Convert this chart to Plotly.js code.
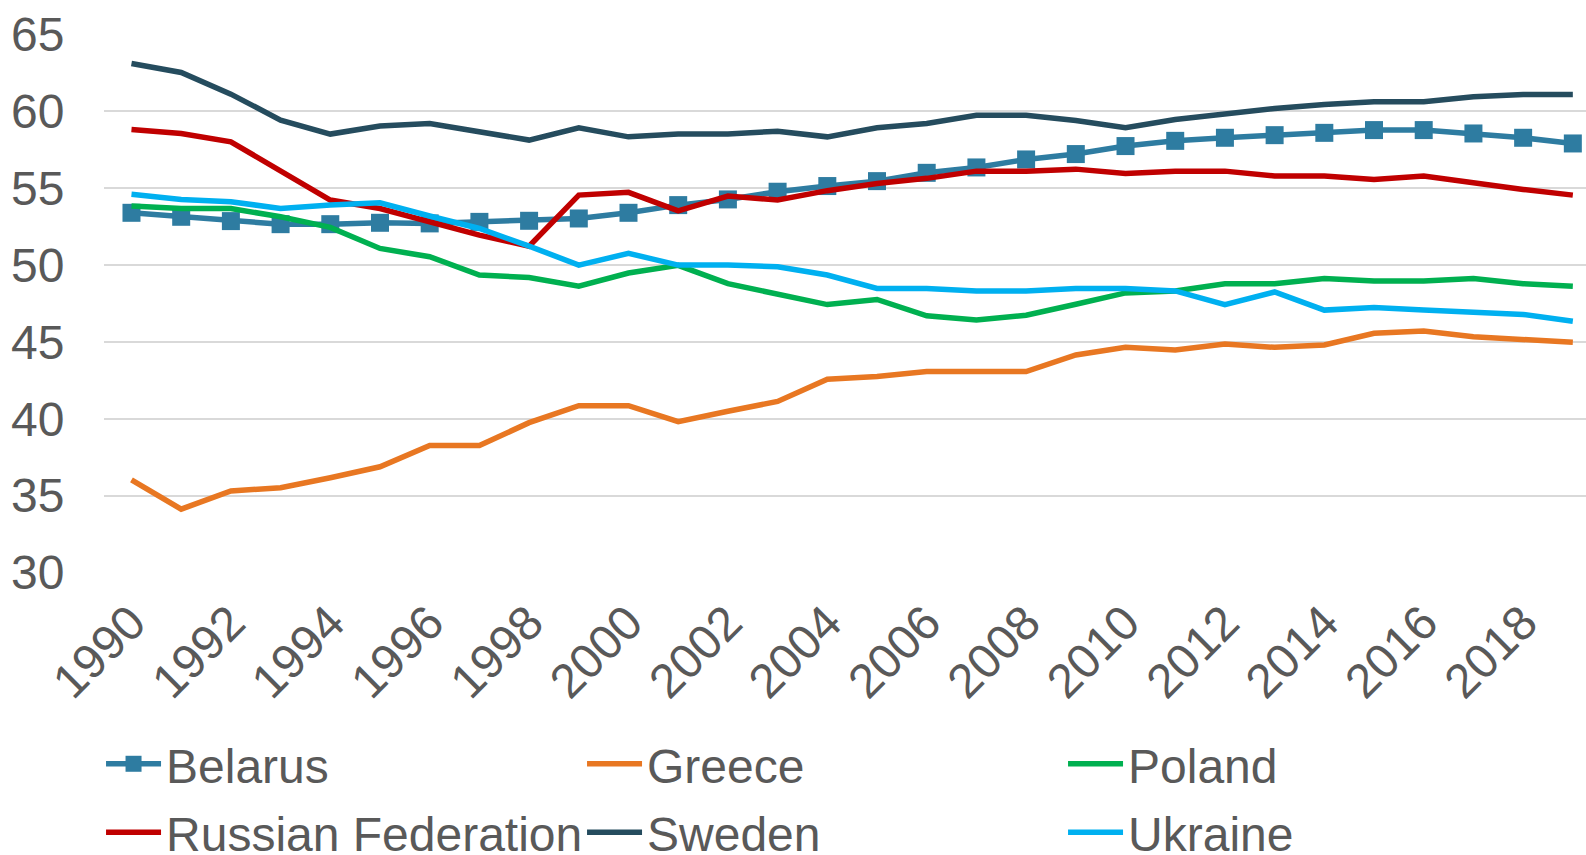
<!DOCTYPE html>
<html>
<head>
<meta charset="utf-8">
<script src="https://cdn.plot.ly/plotly-3.0.1.min.js"></script>
<style>html,body{margin:0;padding:0;background:#fff;}#chart{width:1586px;height:855px;}</style>
</head>
<body>
<div id="chart"></div>
<script>
const years = [1990,1991,1992,1993,1994,1995,1996,1997,1998,1999,2000,2001,2002,2003,2004,2005,2006,2007,2008,2009,2010,2011,2012,2013,2014,2015,2016,2017,2018,2019];
const belarus = [53.4,53.14,52.86,52.66,52.66,52.75,52.71,52.81,52.88,53.03,53.4,53.9,54.27,54.77,55.14,55.46,56.0,56.35,56.87,57.22,57.74,58.08,58.28,58.45,58.6,58.78,58.78,58.56,58.28,57.91];
const greece = [36.02,34.12,35.31,35.52,36.17,36.88,38.26,38.26,39.75,40.85,40.85,39.82,40.49,41.13,42.58,42.75,43.07,43.07,43.07,44.15,44.65,44.48,44.87,44.65,44.8,45.56,45.71,45.34,45.17,44.98];
const poland = [53.84,53.68,53.68,53.14,52.45,51.08,50.54,49.35,49.19,48.62,49.48,49.98,48.79,48.1,47.43,47.76,46.7,46.42,46.74,47.45,48.19,48.32,48.79,48.79,49.12,48.96,48.96,49.12,48.79,48.62];
const russia = [58.82,58.56,58.02,56.13,54.23,53.68,52.82,51.95,51.23,54.55,54.73,53.53,54.49,54.23,54.84,55.31,55.64,56.11,56.11,56.24,55.96,56.11,56.11,55.79,55.79,55.57,55.79,55.31,54.92,54.55];
const sweden = [63.11,62.53,61.12,59.43,58.52,59.04,59.21,58.71,58.13,58.93,58.34,58.52,58.52,58.71,58.34,58.93,59.21,59.75,59.75,59.4,58.93,59.47,59.86,60.19,60.45,60.62,60.62,60.95,61.1,61.1];
const ukraine = [54.6,54.27,54.12,53.68,53.9,54.05,53.19,52.38,51.23,50.0,50.76,50.0,50.0,49.89,49.35,48.48,48.48,48.31,48.31,48.47,48.47,48.32,47.43,48.25,47.07,47.24,47.07,46.94,46.79,46.35];
const seriesNames = ["Belarus","Greece","Poland","Russian Federation","Sweden","Ukraine"];
const seriesData = [belarus,greece,poland,russia,sweden,ukraine];
const seriesColors = ["#2E7CA1","#E87722","#00B050","#C00000","#254C5E","#00B0F0"];

const traces = seriesNames.map((n,i)=>{
  const t = {x: years, y: seriesData[i], name: n, type:'scatter',
    mode: i===0 ? 'lines+markers' : 'lines',
    line:{color:seriesColors[i], width:5.5},
    legend: i < 3 ? 'legend' : 'legend2',
    hoverinfo:'skip'};
  if(i===0){ t.marker = {symbol:'square', size:18, color:seriesColors[i]}; }
  return t;
});

const legendBase = {
  orientation:'h', x:-0.002, xanchor:'left', yanchor:'top',
  font:{size:48, color:'#595959'},
  entrywidth:411, entrywidthmode:'pixels',
  itemwidth:55, tracegroupgap:0,
  bgcolor:'rgba(0,0,0,0)'
};

const layout = {
  width:1586, height:855,
  margin:{l:104, r:0, t:34, b:282, autoexpand:false},
  paper_bgcolor:'#fff', plot_bgcolor:'#fff',
  font:{family:'"Liberation Sans", Arial, sans-serif', color:'#595959'},
  showlegend:true,
  xaxis:{
    range:[1989.447, 2019.265], tick0:1990, dtick:2, tickangle:-45,
    showgrid:false, zeroline:false, showline:false, automargin:false,
    ticks:'outside', ticklen:1, tickcolor:'rgba(0,0,0,0)',
    tickfont:{size:48, color:'#595959'}
  },
  yaxis:{
    range:[29.97, 65.03], dtick:5, tick0:30,
    showgrid:true, gridcolor:'#D9D9D9', gridwidth:2,
    zeroline:false, showline:false, automargin:false,
    ticks:'outside', ticklen:29, tickcolor:'rgba(0,0,0,0)',
    tickfont:{size:48, color:'#595959'}
  },
  legend: Object.assign({}, legendBase, {y:-0.284}),
  legend2: Object.assign({}, legendBase, {y:-0.411})
};
Plotly.newPlot('chart', traces, layout, {displayModeBar:false, staticPlot:true});
</script>
</body>
</html>
